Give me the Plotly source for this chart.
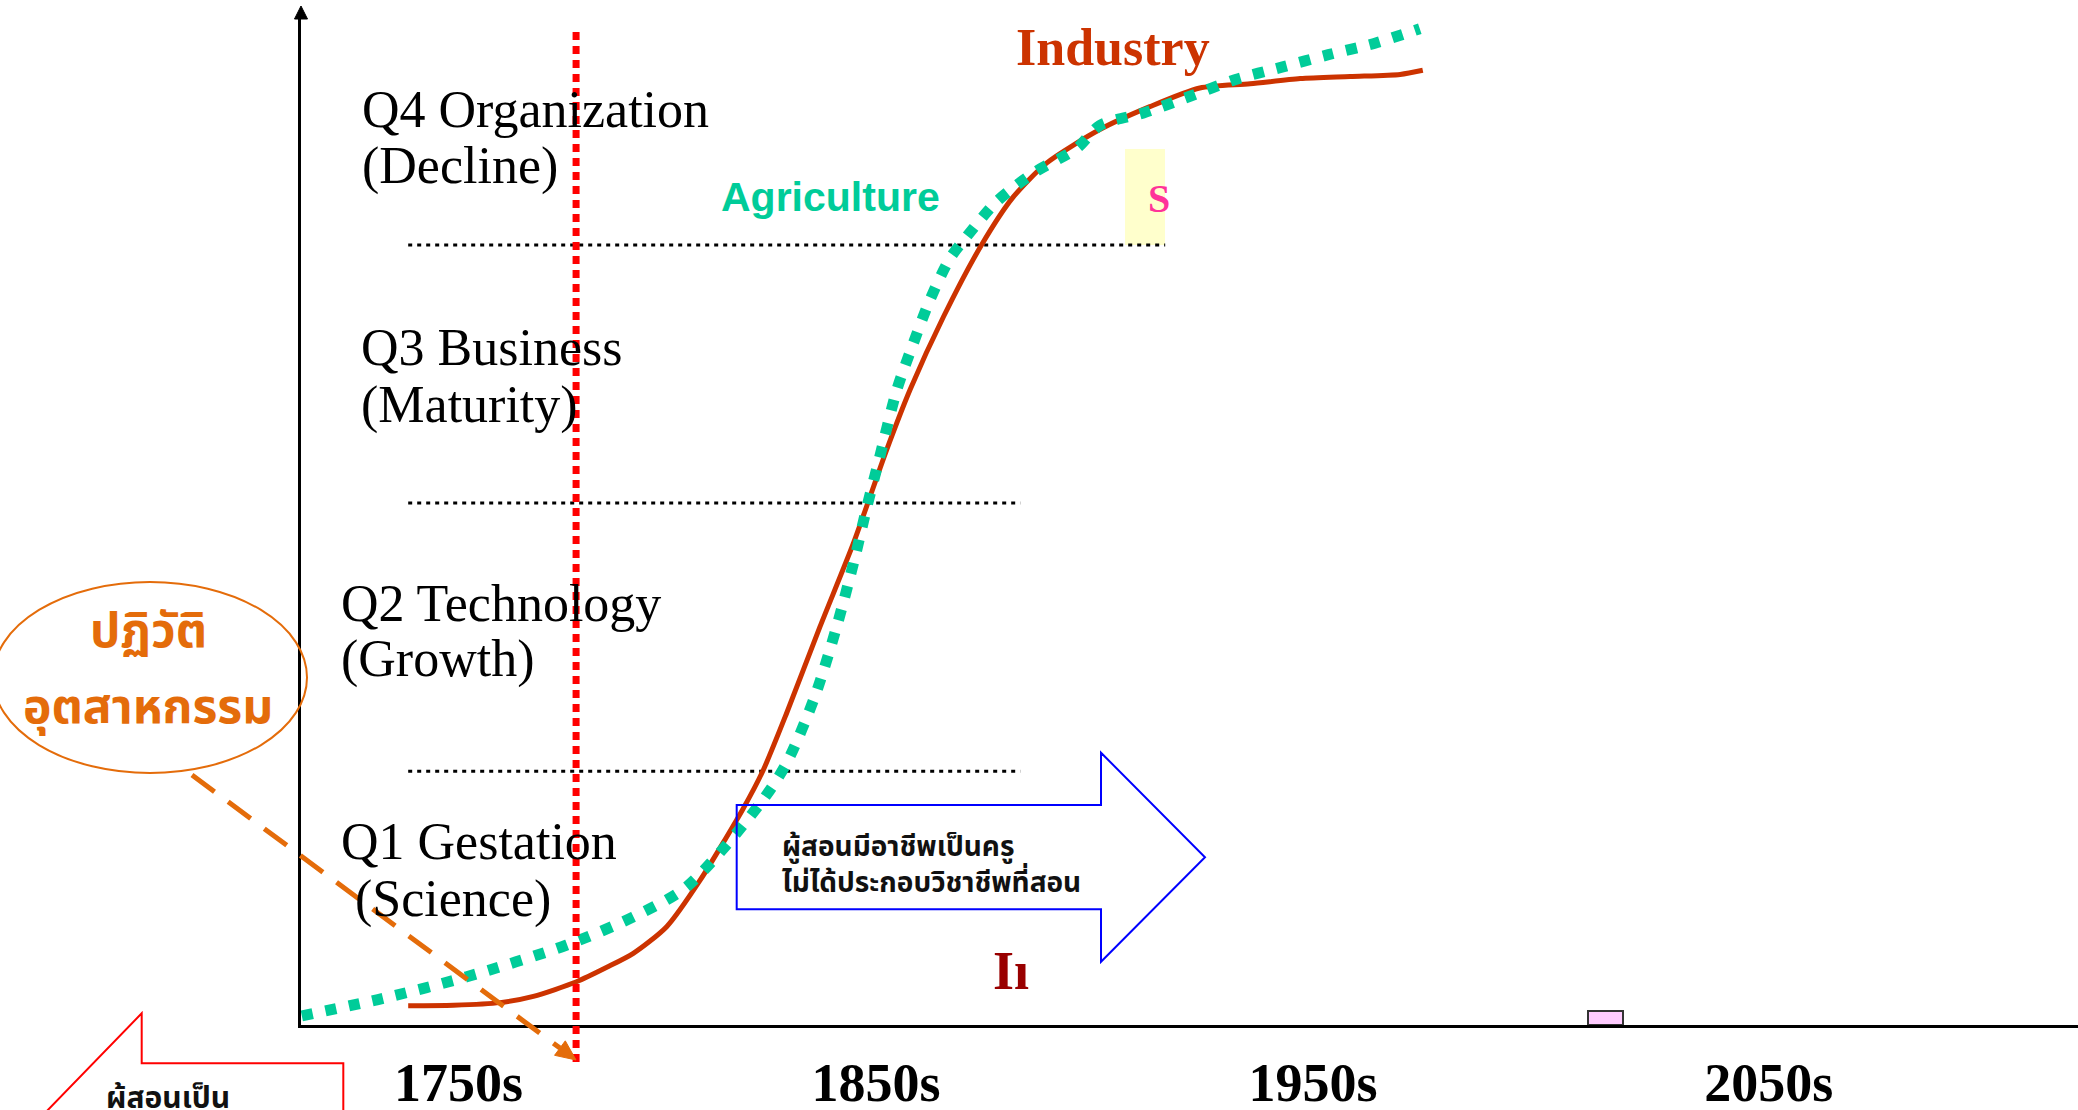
import plotly.graph_objects as go

W, H = 2078, 1110

# ---------------- data ----------------
industry_year = [1738.2, 1748.8, 1759.7, 1767.5, 1777.6, 1784.7, 1790.9, 1798.7, 1806.5,
                 1816.6, 1821.3, 1826.8, 1834.6, 1842.4, 1850.2, 1855.7, 1863.5, 1872.4,
                 1879.8, 1887.7, 1900.1, 1911.8, 1923.5, 1935.3, 1947.0, 1958.7, 1970.4, 1975.7]
industry_level = [1.85, 1.9, 2.15, 2.75, 4.16, 5.55, 6.89, 9.45, 13.9,
                  20.8, 24.5, 30.0, 38.3, 46.3, 55.3, 61.1, 68.1, 75.0,
                  79.6, 82.9, 86.1, 88.3, 90.1, 90.5, 91.0, 91.2, 91.4, 91.8]

agriculture_year = [1713.3, 1732.4, 1751.9, 1775.3, 1790.9, 1803.4, 1820.6, 1826.8, 1833.4,
                    1838.5, 1842.8, 1845.5, 1848.2, 1852.6, 1856.4, 1860.3, 1865.0, 1868.9,
                    1876.0, 1884.9, 1894.7, 1900.1, 1910.3, 1921.2, 1931.7, 1942.7, 1953.6,
                    1964.5, 1975.0]
agriculture_level = [0.87, 2.57, 4.64, 7.69, 10.4, 13.3, 21.3, 25.2, 31.6,
                     38.3, 45.0, 49.7, 54.0, 61.1, 65.5, 69.7, 73.7, 75.8,
                     79.2, 82.0, 84.3, 86.5, 87.7, 89.3, 90.9, 92.1, 93.3,
                     94.4, 95.8]

stage_boundary_level = [24.4, 50.2, 75.0]
stage_boundary_start = [1738.2, 1738.2, 1738.2]
stage_boundary_end = [1881.5, 1881.5, 1915.4]

stage_names = ["Q4 Organization", "Q3 Business", "Q2 Technology", "Q1 Gestation"]
stage_phases = ["(Decline)", "(Maturity)", "(Growth)", "(Science)"]

tick_positions = [1750, 1847.7, 1950, 2056.7]
tick_labels = ["1750s", "1850s", "1950s", "2050s"]

revolution_year = 1777.5

# ---------------- styling / helpers ----------------
SERIF = "Liberation Serif, Times New Roman, serif"
SANS = "Liberation Sans, Arial, sans-serif"
THAI = "Noto Sans Thai, Noto Sans Thai UI, Tahoma, Loma, Garuda, Noto Sans, sans-serif"

X_LEFT_PX, X_AXIS_PX = 301, 1025
PX_PER_YEAR, YEAR_REF, YEAR_REF_PX = 4.272, 1750, 458.6
PX_PER_UNIT = 10.4
Y_TOP_PX = 17

x_range = [YEAR_REF + (X_LEFT_PX - YEAR_REF_PX) / PX_PER_YEAR,
           YEAR_REF + (W - YEAR_REF_PX) / PX_PER_YEAR]
y_range = [0, (X_AXIS_PX - Y_TOP_PX) / PX_PER_UNIT]


def px(x):
    return x / W


def py(y):
    return 1 - y / H


def path(points, close=False):
    s = "M " + " L ".join(f"{px(a):.5f},{py(b):.5f}" for a, b in points)
    return s + (" Z" if close else "")


fig = go.Figure()

# stage boundary dotted lines
for lvl, x0, x1 in zip(stage_boundary_level, stage_boundary_start, stage_boundary_end):
    fig.add_trace(go.Scatter(x=[x0, x1], y=[lvl, lvl], mode="lines",
                             line=dict(color="black", width=3, dash="4px,5px"),
                             hoverinfo="skip"))

fig.add_trace(go.Scatter(x=industry_year, y=industry_level, mode="lines", name="Industry",
                         line=dict(color="#CC3300", width=5, shape="spline", smoothing=0.7)))
fig.add_trace(go.Scatter(x=agriculture_year, y=agriculture_level, mode="lines", name="Agriculture",
                         line=dict(color="#00CC99", width=11, dash="11px,13px",
                                   shape="spline", smoothing=0.8)))

shapes = []
# yellow box behind "S"
shapes.append(dict(type="rect", xref="paper", yref="paper", x0=px(1125), x1=px(1165),
                   y0=py(245), y1=py(149), fillcolor="#FFFFCC", line=dict(width=0), layer="below"))
# pink small box on axis
shapes.append(dict(type="rect", xref="paper", yref="paper", x0=px(1588), x1=px(1623),
                   y0=py(1025), y1=py(1011), fillcolor="#FFCCFF",
                   line=dict(color="#333333", width=2), layer="below"))
# revolution vertical dotted line
shapes.append(dict(type="line", xref="x", yref="paper", x0=revolution_year, x1=revolution_year,
                   y0=py(1062), y1=py(26), line=dict(color="#FF0000", width=7, dash="8px,6px")))
# y-axis arrowhead
shapes.append(dict(type="path", xref="paper", yref="paper",
                   path=path([(X_LEFT_PX, 6), (X_LEFT_PX - 6.5, 19), (X_LEFT_PX + 6.5, 19)], True),
                   fillcolor="black", line=dict(color="black", width=1)))
# orange ellipse
shapes.append(dict(type="circle", xref="paper", yref="paper", x0=px(-7), x1=px(307),
                   y0=py(773), y1=py(582), line=dict(color="#E46C0A", width=2)))
# orange dashed arrow
tail, tip = (192, 775), (576, 1060)
dx, dy = tip[0] - tail[0], tip[1] - tail[1]
L = (dx ** 2 + dy ** 2) ** 0.5
ux, uy = dx / L, dy / L
bx, by = tip[0] - 20 * ux, tip[1] - 20 * uy
shapes.append(dict(type="path", xref="paper", yref="paper", path=path([tail, (bx, by)]),
                   line=dict(color="#E46C0A", width=5, dash="28px,17px")))
shapes.append(dict(type="path", xref="paper", yref="paper",
                   path=path([tip, (bx - 9 * uy, by + 9 * ux), (bx + 9 * uy, by - 9 * ux)], True),
                   fillcolor="#E46C0A", line=dict(color="#E46C0A", width=1)))
# blue block arrow
shapes.append(dict(type="path", xref="paper", yref="paper",
                   path=path([(736.7, 805), (1101, 805), (1101, 752.7), (1205, 857.2),
                              (1101, 961.7), (1101, 909.3), (736.7, 909.3)], True),
                   line=dict(color="#0000FF", width=2)))
# red outlined arrow at bottom-left
shapes.append(dict(type="path", xref="paper", yref="paper",
                   path=path([(43, 1115), (141.7, 1013.3), (141.7, 1063.3), (343.3, 1063.3),
                              (343.3, 1115)]),
                   line=dict(color="#FF0000", width=2)))

ann = []


def text(t, x, y, size, color="black", family=SERIF, weight="normal", xanchor="left"):
    ann.append(dict(text=t, x=px(x), y=py(y), xref="paper", yref="paper", showarrow=False,
                    xanchor=xanchor, yanchor="middle", align="left",
                    font=dict(family=family, size=size, color=color, weight=weight)))


FS = 52
stage_pos = [(360, 126.7, 360, 183.3), (359, 365.5, 359, 422.5),
             (339, 621.0, 339, 676.7), (339, 859.6, 352.5, 916.6)]
for name, phase, (x1, b1, x2, b2) in zip(stage_names, stage_phases, stage_pos):
    text(name, x1, b1 - 0.34 * FS, FS)
    text(phase, x2, b2 - 0.34 * FS, FS)

text("Industry", 1113, 47.3, 52, "#CC3300", SERIF, "bold", "center")
text("Agriculture", 830.5, 197.5, 41, "#00CC99", SANS, "bold", "center")
text("S", 1146, 198.4, 40, "#FF3399", SERIF, "bold")
text("Iı", 991, 970.6, 54, "#990000", SERIF, "bold")

text("ปฏิวัติ", 148.3, 633, 48, "#E46C0A", THAI, "bold", "center")
text("อุตสาหกรรม", 148.3, 708, 48, "#E46C0A", THAI, "bold", "center")
text("ผู้สอนมีอาชีพเป็นครู<br>ไม่ได้ประกอบวิชาชีพที่สอน", 780, 865.5, 28, "#111111", THAI, "bold")
text("ผู้สอนเป็น", 104, 1099, 30, "#111111", THAI, "bold")

fig.update_layout(
    width=W, height=H, margin=dict(l=0, r=0, t=0, b=0, autoexpand=False),
    paper_bgcolor="white", plot_bgcolor="white", showlegend=False,
    shapes=shapes, annotations=ann,
    xaxis=dict(domain=[px(X_LEFT_PX), 1], range=x_range, showgrid=False, zeroline=False,
               automargin=False,
               showline=True, linecolor="black", linewidth=3,
               tickvals=tick_positions, ticktext=tick_labels, ticks="", ticklabelstandoff=8,
               tickfont=dict(family=SERIF, size=54, color="black", weight="bold")),
    yaxis=dict(domain=[1 - X_AXIS_PX / H, 1 - Y_TOP_PX / H], range=y_range, showgrid=False,
               automargin=False,
               zeroline=False, showline=True, linecolor="black", linewidth=3,
               showticklabels=False, ticks=""),
)

fig.write_html("out.html", config={"displayModeBar": False},
               post_script="document.body.style.margin='0px';document.body.style.overflow='hidden';")
